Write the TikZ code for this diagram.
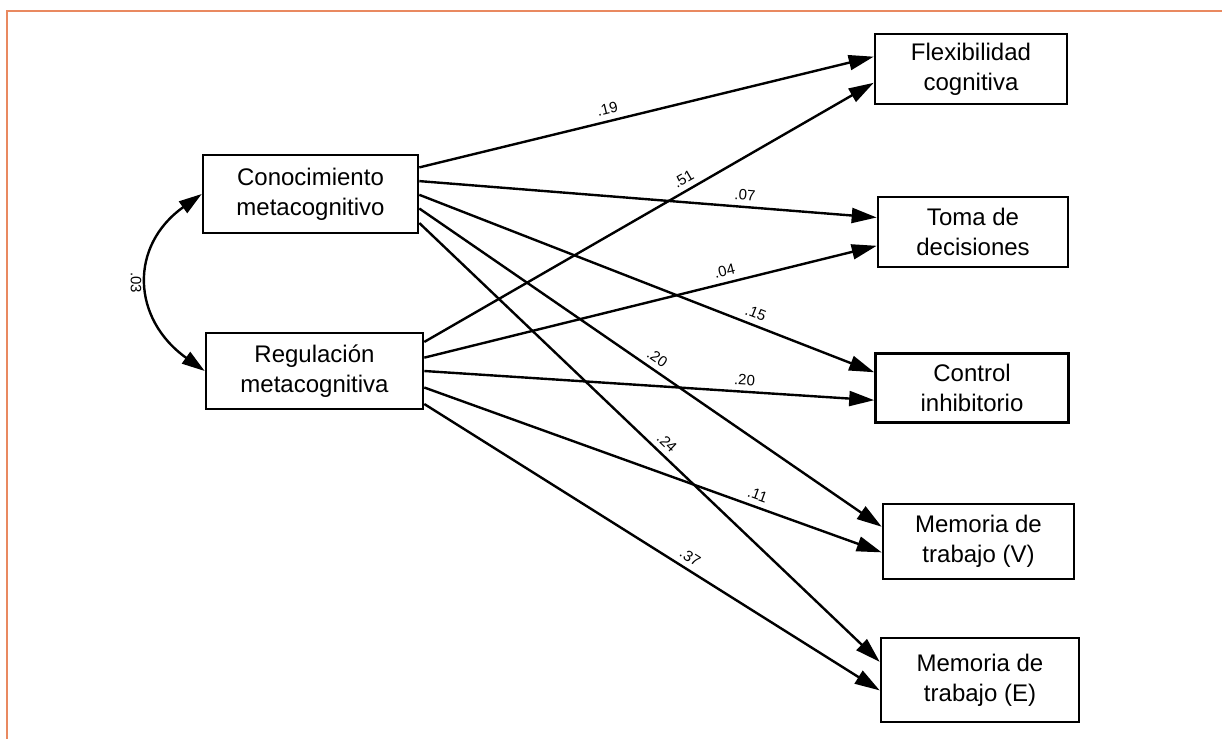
\documentclass[tikz,border=0pt]{standalone}
\usepackage{fontspec}
\setmainfont{Liberation Sans}
\usetikzlibrary{arrows.meta,calc}
\definecolor{frameorange}{RGB}{233,137,96}
\begin{document}
\begin{tikzpicture}[x=1pt,y=-1pt,
  box/.style={draw, line width=2.6pt, inner sep=0pt, align=center,
    font=\fontsize{24}{30}\selectfont},
  arr/.style={line width=2.4pt, -{Triangle[length=25pt,width=15pt]}},
  dbl/.style={line width=2.4pt, {Triangle[length=23pt,width=14pt]}-{Triangle[length=23pt,width=14pt]}},
  lab/.style={sloped, above, inner sep=5.5pt, font=\fontsize{15}{17}\selectfont},
  frame/.style={draw=frameorange, line width=1.7pt}]
\useasboundingbox (0,0) rectangle (1222,739);
\fill[white] (0,0) rectangle (1222,739);
% frame
\draw[frame] (1222,11) -- (7,11) -- (7,739);
% nodes
\node[box, minimum width=215pt, minimum height=78pt] (con) at (310.5,194) {Conocimiento\\metacognitivo};
\node[box, minimum width=217pt, minimum height=76pt] (reg) at (314.5,371) {Regulación\\metacognitiva};
\node[box, minimum width=192pt, minimum height=70pt] (flex) at (971,69) {Flexibilidad\\cognitiva};
\node[box, minimum width=190pt, minimum height=70pt] (toma) at (973,232) {Toma de\\decisiones};
\node[box, minimum width=193pt, minimum height=69pt] (ctrl) at (972,388) {Control\\inhibitorio};
\node[box, minimum width=191pt, minimum height=75pt] (memv) at (978.5,541.5) {Memoria de\\trabajo (V)};
\node[box, minimum width=198pt, minimum height=84pt] (meme) at (980,680) {Memoria de\\trabajo (E)};
% covariance
\draw[dbl] (con.west) .. controls +(-73,52) and +(-73,-52) .. node[pos=0.5, rotate=-90, anchor=north, inner sep=6pt, font=\fontsize{15}{17}\selectfont] {.03} (reg.west);
% paths from Conocimiento
\draw[arr] ($(con.north east)!0.17!(con.south east)$) -- node[lab,pos=0.42]{.19} ($(flex.north west)!0.33!(flex.south west)$);
\draw[arr] ($(con.north east)!0.34!(con.south east)$) -- node[lab,pos=0.71]{.07} ($(toma.north west)!0.3!(toma.south west)$);
\draw[arr] ($(con.north east)!0.51!(con.south east)$) -- node[lab,pos=0.73]{.15} ($(ctrl.north west)!0.28!(ctrl.south west)$);
\draw[arr] ($(con.north east)!0.68!(con.south east)$) -- node[lab,pos=0.50]{.20} ($(memv.north west)!0.31!(memv.south west)$);
\draw[arr] ($(con.north east)!0.86!(con.south east)$) -- node[lab,pos=0.52]{.24} ($(meme.north west)!0.29!(meme.south west)$);
% paths from Regulacion
\draw[arr] ($(reg.north east)!0.13!(reg.south east)$) -- node[lab,pos=0.59]{.51} ($(flex.north west)!0.69!(flex.south west)$);
\draw[arr] ($(reg.north east)!0.33!(reg.south east)$) -- node[lab,pos=0.67]{.04} ($(toma.north west)!0.69!(toma.south west)$);
\draw[arr] ($(reg.north east)!0.5!(reg.south east)$) -- node[lab,pos=0.71]{.20} ($(ctrl.north west)!0.67!(ctrl.south west)$);
\draw[arr] ($(reg.north east)!0.71!(reg.south east)$) -- node[lab,pos=0.72]{.11} ($(memv.north west)!0.64!(memv.south west)$);
\draw[arr] ($(reg.north east)!0.92!(reg.south east)$) -- node[lab,pos=0.57]{.37} ($(meme.north west)!0.62!(meme.south west)$);
\end{tikzpicture}
\end{document}
